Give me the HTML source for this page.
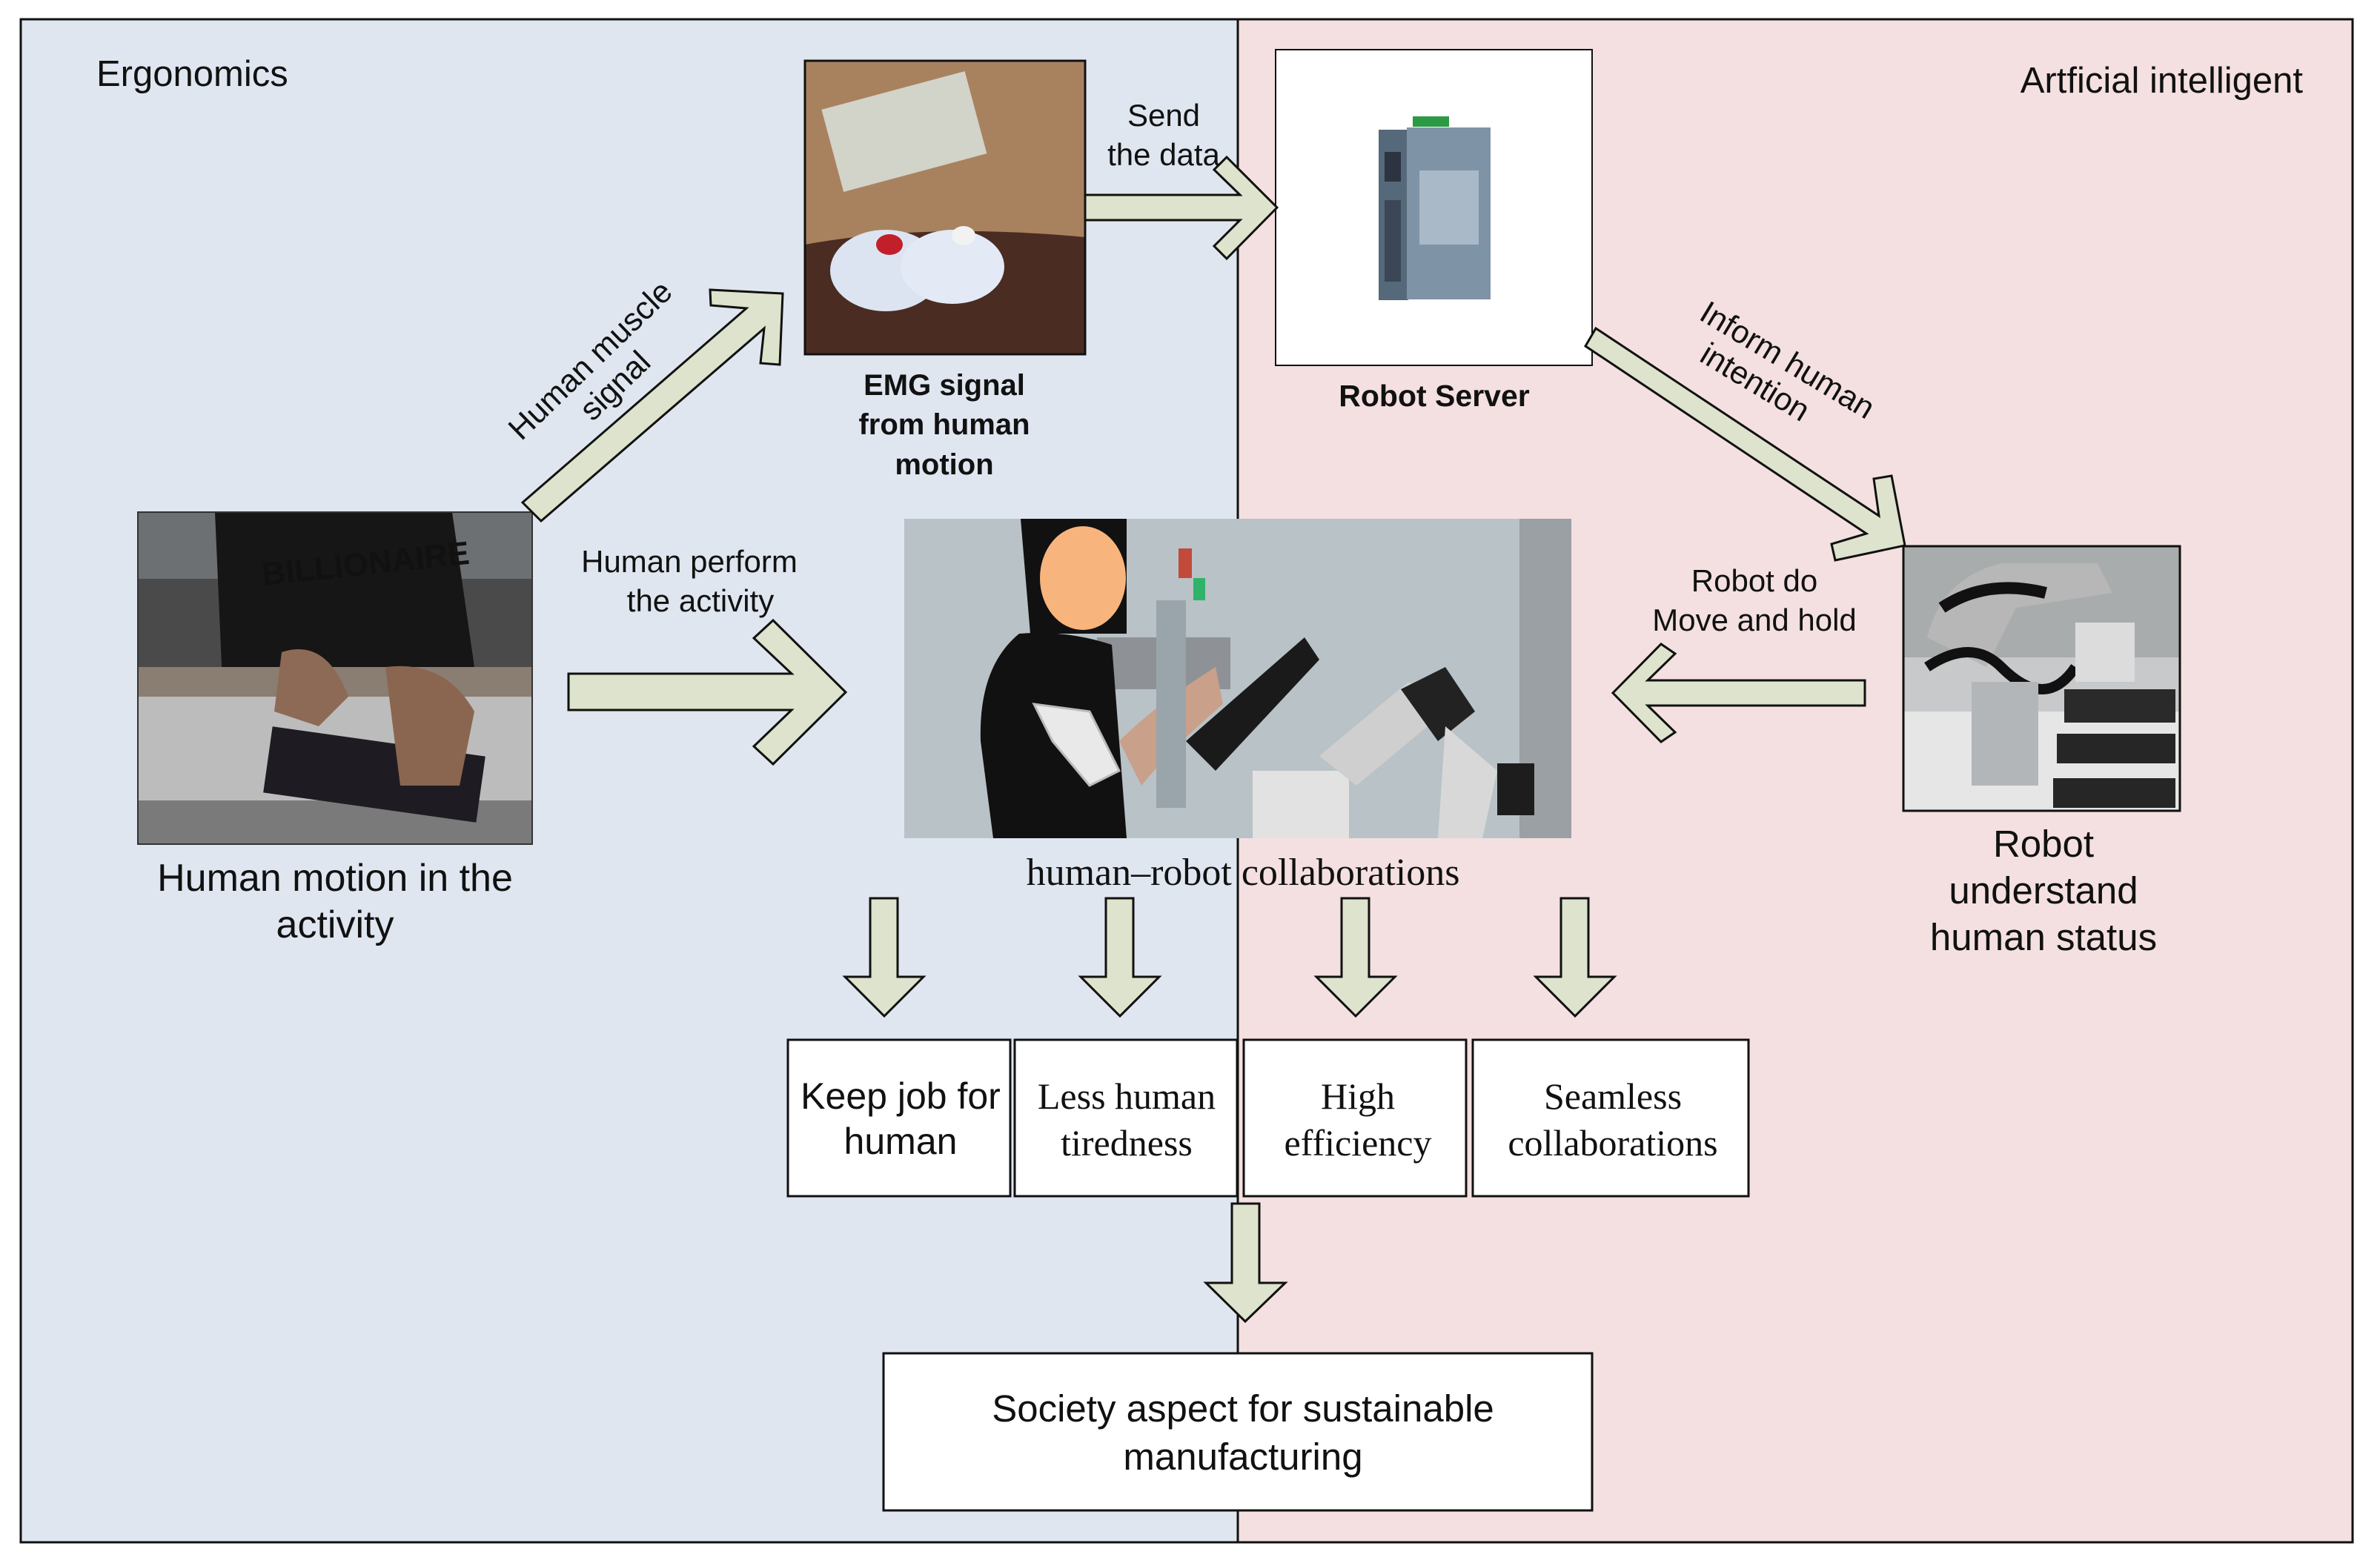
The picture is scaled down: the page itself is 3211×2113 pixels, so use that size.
<!DOCTYPE html>
<html><head><meta charset="utf-8"><style>
html,body{margin:0;padding:0;background:#fff}
svg{display:block}
text{font-family:"Liberation Sans",sans-serif;fill:#111}
.serif{font-family:"Liberation Serif",serif}
</style></head><body>
<svg width="3211" height="2113" viewBox="0 0 3211 2113" xmlns="http://www.w3.org/2000/svg">
<rect x="0" y="0" width="3211" height="2113" fill="#fff"/>
<rect x="28" y="26" width="1642" height="2055" fill="#dfe6f0"/>
<rect x="1670" y="26" width="1504" height="2055" fill="#f4e0e0"/>
<rect x="28" y="26" width="3146" height="2055" fill="none" stroke="#111" stroke-width="3"/>
<line x1="1670" y1="26" x2="1670" y2="2081" stroke="#111" stroke-width="3"/>

<text x="130" y="116" font-size="49">Ergonomics</text>
<text x="3107" y="125" font-size="49" text-anchor="end">Artficial intelligent</text>

<!-- EMG photo -->
<rect x="1086" y="82" width="378" height="396" fill="#a8825f"/>
<rect x="1120" y="120" width="200" height="115" fill="#d2d3c9" transform="rotate(-15 1220 178)"/>
<path d="M1086 330 Q1250 300 1464 320 L1464 478 L1086 478 Z" fill="#4a2c22"/>
<ellipse cx="1195" cy="365" rx="75" ry="55" fill="#dce4f2"/>
<ellipse cx="1285" cy="360" rx="70" ry="50" fill="#e3e9f5"/>
<ellipse cx="1200" cy="330" rx="18" ry="14" fill="#c21f2a"/>
<ellipse cx="1300" cy="318" rx="16" ry="13" fill="#f2f2f2"/>
<rect x="1086" y="82" width="378" height="396" fill="none" stroke="#111" stroke-width="3"/>
<text x="1274" y="533" font-size="40" font-weight="bold" text-anchor="middle">EMG signal</text>
<text x="1274" y="586" font-size="40" font-weight="bold" text-anchor="middle">from human</text>
<text x="1274" y="640" font-size="40" font-weight="bold" text-anchor="middle">motion</text>

<!-- Robot server -->
<rect x="1721" y="67" width="427" height="426" fill="#fff" stroke="#111" stroke-width="2"/>
<rect x="1860" y="175" width="40" height="230" fill="#56697a"/>
<rect x="1898" y="172" width="113" height="232" fill="#7f93a6"/>
<rect x="1906" y="157" width="49" height="14" fill="#2c9a45"/>
<rect x="1868" y="205" width="22" height="40" fill="#2b3440"/>
<rect x="1868" y="270" width="22" height="110" fill="#3b4756"/>
<rect x="1915" y="230" width="80" height="100" fill="#a9b9c8"/>
<text x="1935" y="548" font-size="41" font-weight="bold" text-anchor="middle">Robot Server</text>

<!-- Human motion photo -->
<rect x="186" y="691" width="532" height="448" fill="#4a4a4a"/>
<rect x="186" y="691" width="532" height="90" fill="#6c7073"/>
<path d="M290 691 L610 691 L640 900 L300 920 Z" fill="#161616"/>
<rect x="186" y="900" width="532" height="40" fill="#8a7d72"/>
<rect x="186" y="940" width="532" height="199" fill="#bcbcbc"/>
<rect x="186" y="1080" width="532" height="59" fill="#7a7a7a"/>
<rect x="360" y="1000" width="290" height="90" fill="#1e1c22" transform="rotate(8 505 1045)"/>
<path d="M380 880 Q440 860 470 940 L430 980 L370 960 Z" fill="#8d6a55"/>
<path d="M520 900 Q600 890 640 960 L620 1060 L540 1060 Z" fill="#8a6650"/>
<text x="355" y="790" font-size="44" font-weight="bold" fill="#a8a8a8" transform="rotate(-6 355 790)">BILLIONAIRE</text>
<rect x="186" y="691" width="532" height="448" fill="none" stroke="#333" stroke-width="2"/>
<text x="452" y="1202" font-size="52" text-anchor="middle">Human motion in the</text>
<text x="452" y="1265" font-size="52" text-anchor="middle">activity</text>

<!-- Center photo -->
<rect x="1220" y="700" width="900" height="431" fill="#b9c2c6"/>
<rect x="2050" y="700" width="70" height="431" fill="#9aa0a3"/>
<rect x="1480" y="860" width="180" height="70" fill="#8e9296"/>
<path d="M1377 700 L1520 700 L1520 855 L1390 855 Z" fill="#111"/>
<path d="M1375 855 Q1440 850 1500 870 L1520 1131 L1340 1131 L1323 1000 Q1320 900 1375 855 Z" fill="#111"/>
<path d="M1395 950 L1470 960 L1510 1040 L1470 1060 L1420 1000 Z" fill="#e9e9e9" stroke="#bbb" stroke-width="3"/>
<path d="M1510 1000 Q1560 950 1640 900 L1650 950 Q1580 1010 1540 1060 Z" fill="#c9a08a"/>
<path d="M1600 1000 L1760 860 L1780 890 L1640 1040 Z" fill="#1a1a1a"/>
<rect x="1560" y="810" width="40" height="280" fill="#9aa4ab"/>
<rect x="1590" y="740" width="18" height="40" fill="#c24a3a"/>
<rect x="1610" y="780" width="16" height="30" fill="#2fb36a"/>
<rect x="1690" y="1040" width="130" height="91" fill="#e2e2e2"/>
<path d="M1780 1020 L1900 920 L1950 960 L1830 1060 Z" fill="#cfcfcf"/>
<path d="M1890 930 L1950 900 L1990 960 L1940 1000 Z" fill="#222"/>
<path d="M1950 980 L2020 1040 L2000 1131 L1940 1131 Z" fill="#d8d8d8"/>
<rect x="2020" y="1030" width="50" height="70" fill="#1d1d1d"/>
<ellipse cx="1461" cy="780" rx="58" ry="70" fill="#f8b47d"/>
<text x="1677" y="1194" font-size="52" class="serif" text-anchor="middle">human–robot collaborations</text>

<!-- Robot photo -->
<rect x="2568" y="737" width="373" height="357" fill="#c7c9cb"/>
<rect x="2568" y="737" width="373" height="150" fill="#a9acad"/>
<rect x="2568" y="960" width="373" height="134" fill="#e6e6e6"/>
<path d="M2600 860 Q2620 780 2700 760 L2830 760 L2850 800 L2720 820 L2680 900 Z" fill="#b7b7b7"/>
<path d="M2620 820 Q2680 780 2760 800" stroke="#111" stroke-width="16" fill="none"/>
<path d="M2600 900 Q2660 860 2700 900 Q2760 960 2800 900" stroke="#111" stroke-width="14" fill="none"/>
<rect x="2660" y="920" width="90" height="140" fill="#b3b6b8"/>
<rect x="2785" y="930" width="150" height="45" fill="#2a2a2a"/>
<rect x="2775" y="990" width="160" height="40" fill="#262626"/>
<rect x="2770" y="1050" width="165" height="40" fill="#262626"/>
<rect x="2800" y="840" width="80" height="80" fill="#dcdcdc"/>
<rect x="2568" y="737" width="373" height="357" fill="none" stroke="#111" stroke-width="3"/>
<text x="2757" y="1156" font-size="51" text-anchor="middle">Robot</text>
<text x="2757" y="1219" font-size="51" text-anchor="middle">understand</text>
<text x="2757" y="1282" font-size="51" text-anchor="middle">human status</text>

<g fill="#dde3cc" stroke="#111" stroke-width="3" stroke-linejoin="miter">
<polygon points="767,909 1068,909 1017,861 1043,837 1141,934 1043,1031 1017,1007 1068,958 767,958"/>
<polygon points="1464,263 1673,263 1638,229 1655,212 1723,280 1655,349 1638,332 1673,297 1464,297"/>
<polygon points="2516,918 2223,918 2260,882 2241,869 2176,935 2241,1001 2260,988 2223,952 2516,952"/>
<polygon points="705,678 1007,416 959,412 958,391 1056,396 1052,492 1026,490 1031,443 730,703"/>
<polygon points="2153,443 2535,696 2528,646 2552,642 2570,736 2476,756 2471,734 2518,720 2139,467"/>
<polygon points="1174,1212 1211,1212 1211,1318 1246,1318 1193,1371 1140,1318 1174,1318"/>
<polygon points="1492,1212 1529,1212 1529,1318 1564,1318 1511,1371 1458,1318 1492,1318"/>
<polygon points="1810,1212 1847,1212 1847,1318 1882,1318 1829,1371 1776,1318 1810,1318"/>
<polygon points="2106,1212 2143,1212 2143,1318 2178,1318 2125,1371 2072,1318 2106,1318"/>
<polygon points="1662,1624 1699,1624 1699,1731 1734,1731 1680,1783 1627,1731 1662,1731"/>
</g>

<text x="1570" y="170" font-size="42" text-anchor="middle">Send</text>
<text x="1570" y="223" font-size="42" text-anchor="middle">the data</text>
<text x="930" y="772" font-size="42" text-anchor="middle">Human perform</text>
<text x="945" y="825" font-size="42" text-anchor="middle">the activity</text>
<text x="2367" y="798" font-size="42" text-anchor="middle">Robot do</text>
<text x="2367" y="851" font-size="42" text-anchor="middle">Move and hold</text>
<g transform="translate(812,502) rotate(-44)">
<text x="0" y="-8" font-size="43" text-anchor="middle">Human muscle</text>
<text x="0" y="40" font-size="43" text-anchor="middle">signal</text>
</g>
<g transform="translate(2400,505) rotate(31)">
<text x="0" y="-8" font-size="43" text-anchor="middle">Inform human</text>
<text x="-22" y="40" font-size="43" text-anchor="middle">intention</text>
</g>

<g fill="#fff" stroke="#111" stroke-width="3">
<rect x="1063" y="1403" width="300" height="211"/>
<rect x="1369" y="1403" width="300" height="211"/>
<rect x="1678" y="1403" width="300" height="211"/>
<rect x="1987" y="1403" width="372" height="211"/>
<rect x="1192" y="1826" width="956" height="212"/>
</g>
<text x="1215" y="1496" font-size="50" text-anchor="middle">Keep job for</text>
<text x="1215" y="1557" font-size="50" text-anchor="middle">human</text>
<text x="1520" y="1496" font-size="50" class="serif" text-anchor="middle">Less human</text>
<text x="1520" y="1559" font-size="50" class="serif" text-anchor="middle">tiredness</text>
<text x="1832" y="1496" font-size="50" class="serif" text-anchor="middle">High</text>
<text x="1832" y="1559" font-size="50" class="serif" text-anchor="middle">efficiency</text>
<text x="2176" y="1496" font-size="50" class="serif" text-anchor="middle">Seamless</text>
<text x="2176" y="1559" font-size="50" class="serif" text-anchor="middle">collaborations</text>
<text x="1677" y="1918" font-size="51" text-anchor="middle">Society aspect for sustainable</text>
<text x="1677" y="1983" font-size="51" text-anchor="middle">manufacturing</text>
</svg>
</body></html>
